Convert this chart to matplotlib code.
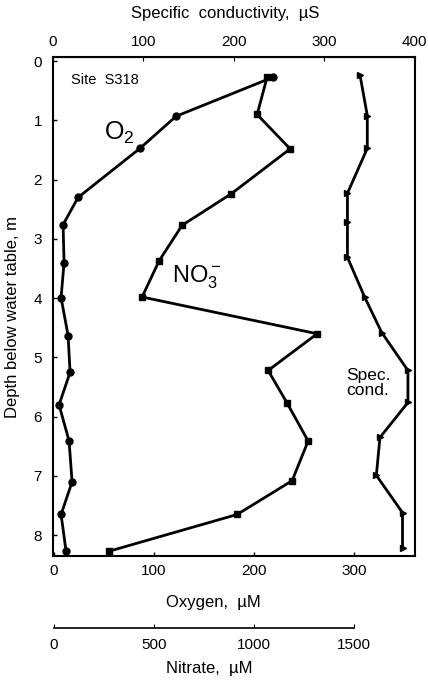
import matplotlib
matplotlib.use("Agg")
import matplotlib.pyplot as plt

# depth profiles at site S318 (depth below water table, m)
depth_o2 = [0.27, 0.93, 1.47, 2.30, 2.76, 3.40, 3.99, 4.63, 5.25, 5.80, 6.41, 7.10, 7.65, 8.27]
oxygen = [219, 122, 86, 24, 9, 10, 7, 14, 16, 5, 15, 18, 7, 12]

depth_no3 = [0.27, 0.90, 1.48, 2.24, 2.77, 3.37, 3.98, 4.60, 5.22, 5.77, 6.41, 7.08, 7.65, 8.27]
nitrate = [1065, 1015, 1180, 885, 640, 525, 440, 1315, 1070, 1165, 1270, 1190, 915, 275]

depth_cond = [0.24, 0.92, 1.47, 2.23, 2.72, 3.31, 3.98, 4.58, 5.22, 5.76, 6.35, 6.99, 7.62, 8.22]
cond = [340, 348, 348, 326, 326, 326, 345, 364, 393, 393, 362, 358, 387, 387]

depth_ticks = [0, 1, 2, 3, 4, 5, 6, 7, 8]
oxygen_ticks = [0, 100, 200, 300]
nitrate_ticks = [0, 500, 1000, 1500]
cond_ticks = [0, 100, 200, 300, 400]

plt.rcParams["font.family"] = ["Liberation Sans", "DejaVu Sans"]
plt.rcParams["mathtext.fontset"] = "custom"
plt.rcParams["mathtext.rm"] = "Liberation Sans"
plt.rcParams["mathtext.it"] = "Liberation Sans"

LW = 2.0
FS = 11
LFS = 12

fig = plt.figure(figsize=(4.28, 6.81), dpi=100)
ax = fig.add_axes([0.124, 0.1836, 0.846, 0.7327])

# oxygen on the main (bottom) axis
ax.plot(oxygen, depth_o2, color="black", lw=LW, marker="o", ms=5)
ax.set_xlim(-1, 361)
ax.set_ylim(8.35, -0.07)
ax.set_xticks(oxygen_ticks)
ax.set_yticks(depth_ticks)
ax.tick_params(direction="in", length=3, width=1, labelsize=FS, pad=6)
ax.tick_params(axis="y", pad=8)
ax.set_xlabel("Oxygen,  \u00b5M", fontsize=LFS)
ax.xaxis.set_label_coords(0.442, -0.078)
ax.set_ylabel("Depth below water table, m", fontsize=LFS)
ax.yaxis.set_label_coords(-0.09, 0.479)
for s in ax.spines.values():
    s.set_linewidth(1.5)

# nitrate: own x scale, axis drawn below oxygen
axn = ax.twiny()
axn.plot(nitrate, depth_no3, color="black", lw=LW, marker="s", ms=4.5)
axn.set_xlim(-5, 1805)
axn.set_ylim(8.35, -0.07)
axn.xaxis.set_ticks_position("bottom")
axn.xaxis.set_label_position("bottom")
axn.spines["bottom"].set_position(("outward", 52))
axn.spines["bottom"].set_bounds(0, 1500)
axn.spines["bottom"].set_linewidth(1.2)
for k in ("top", "left", "right"):
    axn.spines[k].set_visible(False)
axn.set_xticks(nitrate_ticks)
axn.tick_params(direction="in", length=3, labelsize=FS, pad=7)
axn.set_xlabel("Nitrate,  \u00b5M", fontsize=LFS)
axn.xaxis.set_label_coords(0.43, -0.210)

# specific conductivity on top axis
axc = ax.twiny()
axc.plot(cond, depth_cond, color="black", lw=LW, marker=">", ms=4)
axc.set_xlim(0, 401)
axc.set_ylim(8.35, -0.07)
axc.set_xticks(cond_ticks)
axc.tick_params(direction="in", length=3, labelsize=FS, pad=6)
axc.set_xlabel("Specific  conductivity,  \u00b5S", fontsize=LFS)
axc.xaxis.set_label_coords(0.475, 1.078)
for k in ("bottom", "left", "right"):
    axc.spines[k].set_visible(False)

# annotations
ax.text(0.05, 0.954, "Site  S318", transform=ax.transAxes, fontsize=10.5,
        ha="left", va="center")
ax.text(0.141, 0.848, "O$_2$", transform=ax.transAxes, fontsize=18,
        ha="left", va="center")
ax.text(0.329, 0.559, "NO$_3^-$", transform=ax.transAxes, fontsize=17,
        ha="left", va="center")
ax.text(0.870, 0.347, "Spec.\ncond.", transform=ax.transAxes, fontsize=12.5,
        ha="center", va="center", multialignment="center", linespacing=0.95)

fig.savefig("out.png", dpi=100)
